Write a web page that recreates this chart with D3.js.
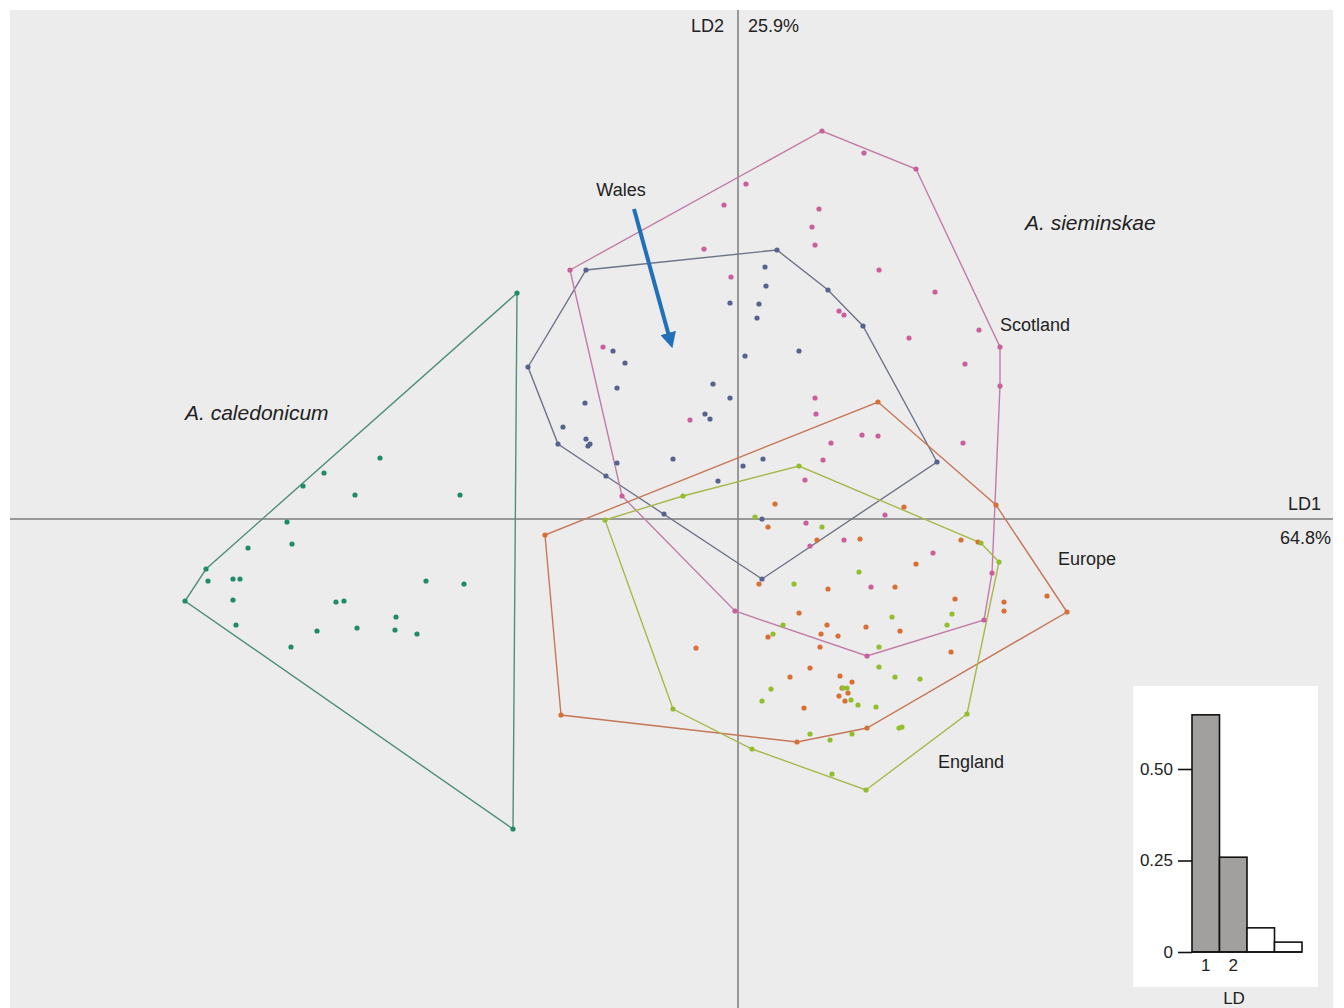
<!DOCTYPE html>
<html>
<head>
<meta charset="utf-8">
<script src="https://cdn.jsdelivr.net/npm/d3@7"></script>
<style>
  body { margin: 0; background: #fff; }
  text { font-family: "Liberation Sans", Arial, sans-serif; fill: #222; }
</style>
</head>
<body>
<div id="chart"></div>
<script>
// LD scores, [LD1, LD2]
var caledonicum = [[-4.42,4.52],[-7.16,1.22],[-8.28,0.92],[-8.70,0.66],[-7.66,0.48],[-5.56,0.48],[-9.02,-0.06],
  [-9.80,-0.58],[-8.92,-0.50],[-10.64,-1.00],[-10.60,-1.24],[-10.10,-1.20],[-9.96,-1.20],[-11.06,-1.64],
  [-10.10,-1.62],[-10.04,-2.12],[-8.94,-2.56],[-8.42,-2.24],[-8.04,-1.66],[-7.88,-1.64],[-7.62,-2.18],
  [-6.84,-1.96],[-6.86,-2.22],[-6.42,-2.30],[-6.24,-1.24],[-5.48,-1.30],[-4.50,-6.20]];
var scotland = [[-3.36,4.98],[1.68,7.76],[2.52,7.32],[3.56,7.00],[5.24,3.44],[5.24,2.66],[4.92,-2.02],[2.58,-2.74],
  [-0.06,-1.84],[-2.32,0.46],[0.16,6.70],[-0.28,6.28],[-0.68,5.40],[1.62,6.20],[1.48,5.84],[1.54,5.48],
  [-0.14,4.84],[2.82,4.98],[3.94,4.54],[2.02,4.16],[2.12,4.08],[3.42,3.62],[4.82,3.78],[4.54,3.10],
  [-2.70,3.44],[1.54,2.42],[1.56,2.10],[1.86,1.52],[2.48,1.68],[2.80,1.66],[1.70,1.18],[1.34,0.78],
  [4.50,1.52],[2.94,0.08],[1.36,-0.08],[2.12,-0.42],[1.44,-0.54],[3.90,-0.68],[2.66,-1.36],[5.08,-1.08],
  [-0.96,1.98]];
var wales = [[-3.04,4.98],[0.78,5.38],[1.80,4.58],[2.50,3.86],[3.98,1.14],[0.48,-1.20],[-1.48,0.10],[-2.64,0.86],
  [-3.60,1.50],[-4.20,3.04],[0.54,5.04],[0.56,4.66],[-0.16,4.32],[0.42,4.30],[0.38,4.02],[-2.50,3.36],
  [-2.26,3.12],[0.14,3.26],[1.22,3.36],[-2.42,2.62],[-0.50,2.70],[-0.16,2.42],[-0.66,2.10],[-0.56,2.00],
  [-3.06,2.32],[-3.50,1.84],[-3.04,1.60],[-2.96,1.50],[-3.00,1.46],[-2.42,1.12],[-1.30,1.20],[-0.40,0.76],
  [0.10,1.06],[0.50,1.20],[0.48,0.00]];
var europe = [[-3.86,-0.32],[2.80,2.34],[5.16,0.28],[6.58,-1.86],[2.58,-4.18],[1.18,-4.46],[-3.54,-3.92],
  [0.74,0.30],[3.32,0.24],[0.60,-0.16],[1.58,-0.42],[2.44,-0.40],[4.46,-0.42],[4.80,-0.46],[3.56,-0.90],
  [0.42,-1.30],[1.80,-1.40],[3.14,-1.36],[4.34,-1.60],[5.32,-1.66],[5.32,-1.84],[6.18,-1.54],[1.22,-1.88],
  [1.78,-2.12],[2.56,-2.16],[0.60,-2.36],[1.66,-2.30],[2.00,-2.34],[3.24,-2.24],[1.64,-2.56],[4.26,-2.66],
  [1.44,-2.98],[1.04,-3.16],[2.04,-3.14],[2.28,-3.26],[2.08,-3.38],[2.02,-3.54],[2.20,-3.48],[2.14,-3.64],
  [1.32,-3.78],[-0.84,-2.58]];
var england = [[-2.66,-0.02],[-1.10,0.46],[1.22,1.06],[4.86,-0.48],[5.22,-0.86],[4.58,-3.90],[2.56,-5.42],
  [0.28,-4.60],[-1.30,-3.80],[0.34,0.04],[1.68,-0.16],[2.42,-1.06],[1.12,-1.30],[3.08,-1.96],[4.28,-1.90],
  [4.18,-2.12],[0.90,-2.12],[0.70,-2.30],[2.82,-2.56],[2.82,-2.96],[3.14,-3.16],[3.64,-3.20],[0.66,-3.40],
  [0.48,-3.64],[2.10,-3.38],[2.18,-3.38],[2.26,-3.62],[2.40,-3.72],[2.76,-3.76],[3.22,-4.18],[3.28,-4.16],
  [1.44,-4.30],[1.84,-4.42],[2.28,-4.30],[1.88,-5.10]];

var groupData = [caledonicum, wales, scotland, europe, england];
var pointColors = ["#22896a", "#56638c", "#c95f9b", "#d86f34", "#92bd2c"];
var hullColors = ["#4f8f7a", "#6d7488", "#c27ca6", "#c67858", "#a8b84c"];

// proportion of trace per discriminant
var ldNames = ["1", "2", "3", "4"];
var ldProportion = [0.648, 0.259, 0.066, 0.027];
var ldTicks = [0, 0.25, 0.5];

var w = 1344, h = 1008;
var svg = d3.select("#chart").append("svg").attr("width", w).attr("height", h);

var plot = {left: 10, right: 1333, top: 10, bottom: 1008};
svg.append("rect")
  .attr("x", plot.left).attr("y", plot.top)
  .attr("width", plot.right - plot.left).attr("height", plot.bottom - plot.top)
  .style("fill", "#ececec");

var x = d3.scaleLinear().domain([-14.56, 11.9]).range([plot.left, plot.right]);
var y = d3.scaleLinear().domain([-9.78, 10.18]).range([plot.bottom, plot.top]);

// axes through the origin
svg.append("line")
  .attr("x1", plot.left).attr("x2", plot.right).attr("y1", y(0)).attr("y2", y(0))
  .style("stroke", "#7c7c7c").style("stroke-width", 1.5);
svg.append("line")
  .attr("x1", x(0)).attr("x2", x(0)).attr("y1", plot.top).attr("y2", plot.bottom)
  .style("stroke", "#7c7c7c").style("stroke-width", 1.5);

// convex hulls
groupData.forEach(function(pts, i) {
  var hull = d3.polygonHull(pts.map(function(d) { return [x(d[0]), y(d[1])]; }));
  svg.append("path")
    .attr("d", "M" + hull.join("L") + "Z")
    .style("fill", "none")
    .style("stroke", hullColors[i])
    .style("stroke-width", 1.4);
});

// points
groupData.forEach(function(pts, i) {
  svg.append("g").selectAll("circle")
    .data(pts)
    .enter()
    .append("circle")
    .attr("cx", function(d) { return x(d[0]); })
    .attr("cy", function(d) { return y(d[1]); })
    .attr("r", 2.6)
    .style("fill", pointColors[i]);
});

// Wales arrow
svg.append("defs").append("marker")
  .attr("id", "arrowhead")
  .attr("viewBox", "0 0 10 10")
  .attr("refX", 2).attr("refY", 5)
  .attr("markerWidth", 4).attr("markerHeight", 4)
  .attr("orient", "auto")
  .append("path").attr("d", "M0,0L10,5L0,10Z").style("fill", "#2271b8");
svg.append("line")
  .attr("x1", x(-2.08)).attr("y1", y(6.20))
  .attr("x2", x(-1.38)).attr("y2", y(3.66))
  .style("stroke", "#2271b8").style("stroke-width", 4)
  .attr("marker-end", "url(#arrowhead)");

// labels
function label(txt, px, py, anchor, italic, size) {
  svg.append("text")
    .attr("x", px).attr("y", py)
    .attr("text-anchor", anchor)
    .style("font-size", (size || 18) + "px")
    .style("font-style", italic ? "italic" : "normal")
    .text(txt);
}
label("Wales", x(-2.34), y(6.46), "middle");
label("A. sieminskae", x(5.74), y(5.78), "start", true, 21);
label("Scotland", x(5.24), y(3.76), "start");
label("A. caledonicum", x(-11.06), y(1.98), "start", true, 21);
label("Europe", x(6.40), y(-0.92), "start");
label("England", x(4.00), y(-4.98), "start");
label("LD2", x(-0.28), y(9.74), "end");
label("25.9%", x(0.20), y(9.74), "start");
label("LD1", x(11.66), y(0.18), "end");
label("64.8%", x(11.86), y(-0.50), "end");

// inset: proportion of trace
var inset = svg.append("g");
inset.append("rect")
  .attr("x", 1133).attr("y", 686).attr("width", 185).attr("height", 301)
  .style("fill", "#fff");
var bx = d3.scaleBand().domain(ldNames).range([1192, 1302]).padding(0);
var by = d3.scaleLinear().domain([0, 0.5]).range([952, 769]);

inset.selectAll("rect.bar")
  .data(ldProportion)
  .enter()
  .append("rect")
  .attr("class", "bar")
  .attr("x", function(d, i) { return bx(ldNames[i]); })
  .attr("y", function(d) { return by(d); })
  .attr("width", bx.bandwidth())
  .attr("height", function(d) { return by(0) - by(d); })
  .style("fill", function(d, i) { return i < 2 ? "#a29f9f" : "#fff"; })
  .style("stroke", "#111")
  .style("stroke-width", 1.6);

var yAxis = d3.axisLeft(by).tickValues(ldTicks).tickSize(14).tickPadding(5)
  .tickFormat(function(d) { return d === 0 ? "0" : d3.format(".2f")(d); });
var ya = inset.append("g").attr("transform", "translate(1192,0)").call(yAxis);
ya.select(".domain").remove();
ya.selectAll("line").style("stroke", "#111").style("stroke-width", 1.6);
ya.selectAll("text").style("font-size", "17px").style("fill", "#222")
  .style("font-family", "'Liberation Sans', Arial, sans-serif");
inset.append("line")
  .attr("x1", 1192).attr("x2", 1302).attr("y1", by(0)).attr("y2", by(0))
  .style("stroke", "#111").style("stroke-width", 1.6);

inset.selectAll("text.ldlab")
  .data(ldNames.slice(0, 2))
  .enter()
  .append("text")
  .attr("class", "ldlab")
  .attr("x", function(d) { return bx(d) + bx.bandwidth() / 2; })
  .attr("y", 971)
  .attr("text-anchor", "middle")
  .style("font-size", "17px")
  .text(function(d) { return d; });
inset.append("text")
  .attr("x", 1234).attr("y", 1004)
  .attr("text-anchor", "middle")
  .style("font-size", "17px")
  .text("LD");
</script>
</body>
</html>
